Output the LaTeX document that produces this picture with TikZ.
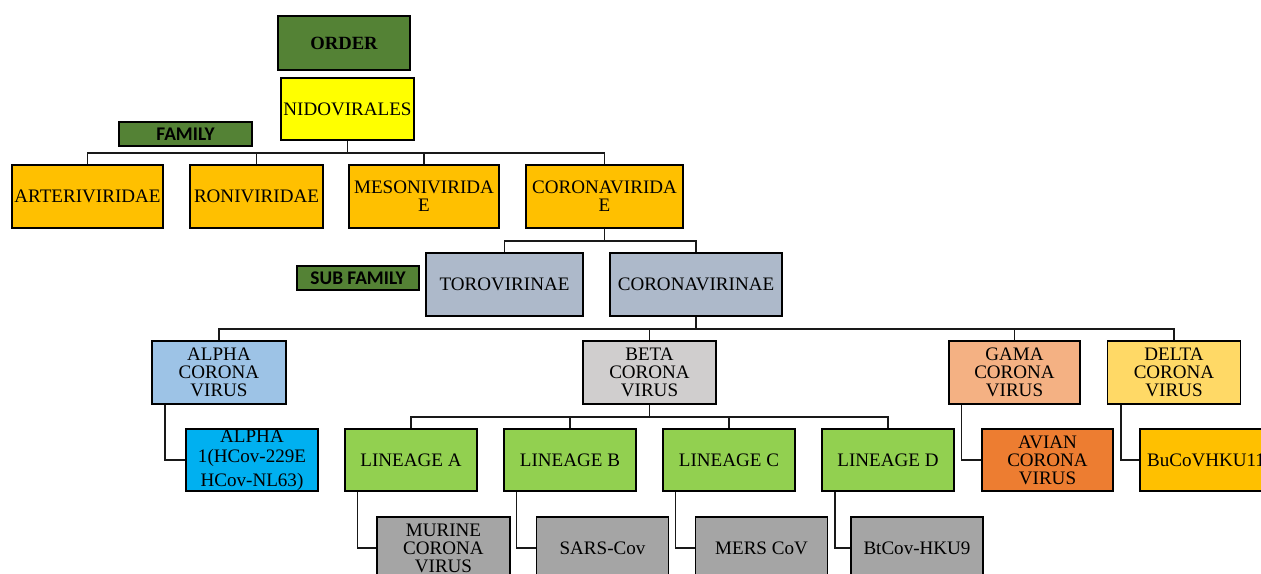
\documentclass[tikz,border=0pt]{standalone}
\usepackage{fontspec}
\setmainfont{Liberation Serif}
\newfontfamily\rankfont{Carlito}
\usepackage{tikz}
\definecolor{rankgreen}{RGB}{84, 130, 53}
\definecolor{orderblock}{RGB}{255, 255, 0}
\definecolor{famblock}{RGB}{255, 192, 0}
\definecolor{subblock}{RGB}{173, 185, 202}
\definecolor{alphablock}{RGB}{157, 195, 230}
\definecolor{betablock}{RGB}{208, 206, 206}
\definecolor{gamablock}{RGB}{244, 177, 131}
\definecolor{deltablock}{RGB}{255, 217, 102}
\definecolor{alphaoneblock}{RGB}{0, 176, 240}
\definecolor{avianblock}{RGB}{237, 125, 49}
\definecolor{lineageblock}{RGB}{146, 208, 80}
\definecolor{strainblock}{RGB}{165, 165, 165}
\tikzset{
	taxbox/.style={draw=black, line width=1.2pt, align=center, inner sep=0.5pt,
		minimum height=47pt, font=\fontsize{14.3}{13.5}\selectfont},
	rankbox/.style={draw=black, line width=1.2pt, fill=rankgreen, inner sep=0pt,
		font=\rankfont\bfseries\fontsize{14.5}{14.5}\selectfont},
	link/.style={draw=black!90, line width=1.4pt},
}

\begin{document}
\begin{tikzpicture}[x=0.75pt, y=-0.75pt]
		\useasboundingbox (0,0) rectangle (1261,574);
		\clip (0,0) rectangle (1261,574);

		\node[rankbox, minimum width=99pt, minimum height=40.5pt, font=\bfseries\fontsize{14}{14}\selectfont] (order) at (344,43) {ORDER};
		\node[taxbox, fill=orderblock, minimum width=99.75pt, minimum height=46.5pt] (nido) at (347.5,109) {NIDOVIRALES};
		\node[rankbox, minimum width=99.75pt, minimum height=18pt] (famlabel) at (185.5,134) {FAMILY};

		\node[taxbox, fill=famblock, minimum width=113.25pt] (arteri) at (87.5,196.5) {ARTERIVIRIDAE};
		\node[taxbox, fill=famblock, minimum width=99.75pt] (roni) at (256.5,196.5) {RONIVIRIDAE};
		\node[taxbox, fill=famblock, minimum width=112.5pt] (mesoni) at (424,196.5) {MESONIVIRIDA\\E};
		\node[taxbox, fill=famblock, minimum width=117.75pt] (coronaviridae) at (604.5,196.5) {CORONAVIRIDA\\E};

		\node[rankbox, minimum width=91.5pt, minimum height=18pt] (sublabel) at (358,278) {SUB FAMILY};
		\node[taxbox, fill=subblock, minimum width=117.75pt] (toro) at (504.5,284.5) {TOROVIRINAE};
		\node[taxbox, fill=subblock, minimum width=129pt] (coronavirinae) at (696,284.5) {CORONAVIRINAE};

		\node[taxbox, fill=alphablock, minimum width=100.5pt] (alpha) at (219,372.5) {ALPHA\\CORONA\\VIRUS};
		\node[taxbox, fill=betablock, minimum width=99.75pt] (beta) at (649.5,372.5) {BETA\\CORONA\\VIRUS};
		\node[taxbox, fill=gamablock, minimum width=98.25pt] (gama) at (1014.5,372.5) {GAMA\\CORONA\\VIRUS};
		\node[taxbox, fill=deltablock, minimum width=99.75pt] (delta) at (1174,372.5) {DELTA\\CORONA\\VIRUS};

		\node[taxbox, fill=alphaoneblock, minimum width=99pt, minimum height=46.5pt] (alphaone) at (252,460) {ALPHA\\[1.5pt]1(HCov-229E\\[4.5pt]HCov-NL63)};
		\node[taxbox, fill=lineageblock, minimum width=99pt, minimum height=46.5pt] (lineA) at (411,460) {LINEAGE A};
		\node[taxbox, fill=lineageblock, minimum width=99pt, minimum height=46.5pt] (lineB) at (570,460) {LINEAGE B};
		\node[taxbox, fill=lineageblock, minimum width=99pt, minimum height=46.5pt] (lineC) at (729,460) {LINEAGE C};
		\node[taxbox, fill=lineageblock, minimum width=99pt, minimum height=46.5pt] (lineD) at (888,460) {LINEAGE D};
		\node[taxbox, fill=avianblock, minimum width=98.25pt, minimum height=46.5pt] (avian) at (1047.5,460) {AVIAN\\CORONA\\VIRUS};
		\node[taxbox, fill=famblock, minimum width=99pt, minimum height=46.5pt] (bucov) at (1206,460) {BuCoVHKU11};

		\node[taxbox, fill=strainblock, minimum width=99.75pt, minimum height=46.5pt] (murine) at (443.5,548) {MURINE\\CORONA\\VIRUS};
		\node[taxbox, fill=strainblock, minimum width=99pt, minimum height=46.5pt] (sars) at (602.5,548) {SARS-Cov};
		\node[taxbox, fill=strainblock, minimum width=99pt, minimum height=46.5pt] (mers) at (761.5,548) {MERS CoV};
		\node[taxbox, fill=strainblock, minimum width=99pt, minimum height=46.5pt] (btcov) at (917,548) {BtCov-HKU9};

		\coordinate (famjoin) at (347.5,153);
		\draw[link] (nido.south) -- (famjoin);
		\foreach \n in {arteri, roni, mesoni, coronaviridae}
			\draw[link] (\n.north) |- (famjoin);

		\coordinate (subjoin) at (604.5,241);
		\draw[link] (coronaviridae.south) -- (subjoin);
		\foreach \n in {toro, coronavirinae}
			\draw[link] (\n.north) |- (subjoin);

		\coordinate (genjoin) at (696,329);
		\draw[link] (coronavirinae.south) -- (genjoin);
		\foreach \n in {alpha, beta, gama, delta}
			\draw[link] (\n.north) |- (genjoin);

		\coordinate (linjoin) at (649.5,417);
		\draw[link] (beta.south) -- (linjoin);
		\foreach \n in {lineA, lineB, lineC, lineD}
			\draw[link] (\n.north) |- (linjoin);

		\draw[link] ([xshift=10.5pt]alpha.south west) |- (alphaone.west);
		\draw[link] ([xshift=10pt]gama.south west) |- (avian.west);
		\draw[link] ([xshift=10.5pt]delta.south west) |- (bucov.west);
		\draw[link] ([xshift=10pt]lineA.south west) |- (murine.west);
		\draw[link] ([xshift=10pt]lineB.south west) |- (sars.west);
		\draw[link] ([xshift=10pt]lineC.south west) |- (mers.west);
		\draw[link] ([xshift=10.5pt]lineD.south west) |- (btcov.west);
	\end{tikzpicture}
\end{document}
